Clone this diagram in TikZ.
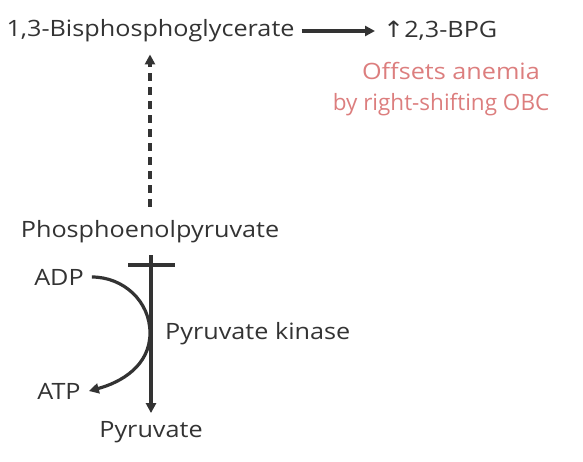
\documentclass[tikz,border=0pt]{standalone}
\usepackage{fontspec}
\setmainfont[FakeStretch=1.12]{Open Sans}
\newfontfamily\symfont[FakeStretch=1.12]{DejaVu Sans}
\newfontfamily\notenarrow{Open Sans}
\usetikzlibrary{arrows.meta}
\definecolor{ink}{HTML}{333333}
\definecolor{note}{HTML}{DC7E7E}
\tikzset{
  lbl/.style={font=\fontsize{22.5}{26}\selectfont, text=ink, inner sep=0pt},
  notelbl/.style={font=\fontsize{22.5}{26}\selectfont, text=note, inner sep=0pt, align=center},
  conn/.style={draw=ink, line width=3.2pt},
  tip/.style={-{Triangle[length=10pt,width=10pt]}},
}
\begin{document}
\begin{tikzpicture}[x=1pt,y=-1pt]
\useasboundingbox (0,0) rectangle (583,461);
\node[lbl] (bpg13) at (150.5,31) {1,3-Bisphosphoglycerate};
\node[lbl, anchor=west] (bpg23) at (383,31) {{\symfont ↑}2,3-BPG};
\node[notelbl] (offs) at (441,89) {\hspace*{20pt}Offsets anemia\\[5pt]{\notenarrow by right-shifting OBC}};
\node[lbl] (pep) at (150,232) {Phosphoenolpyruvate};
\node[lbl] (adp) at (59,277) {ADP};
\node[lbl] (atp) at (59,391) {ATP};
\node[lbl, anchor=west] (pk) at (165,334) {Pyruvate kinase};
\node[lbl] (pyr) at (151,432) {Pyruvate};
\coordinate (barL) at (128,265);
\coordinate (barR) at (175,265);
\coordinate (vtop) at (151,255);
\coordinate (mid) at (150,333);
\draw[conn, tip] ([xshift=7pt]bpg13.east) -- ([xshift=-8pt]bpg23.west);
\draw[conn, tip, dash pattern=on 8pt off 6pt] ([yshift=14pt]pep.north) -- ([yshift=-12pt]bpg13.south -| pep.north);
\draw[conn] (barL) -- (barR);
\draw[conn, tip] (vtop) -- ([yshift=8pt]pyr.north);
\draw[conn, tip] ([xshift=8pt]adp.east) to[out=0,in=90] (mid) to[out=-90,in=15] ([xshift=8pt]atp.east);
\end{tikzpicture}
\end{document}
